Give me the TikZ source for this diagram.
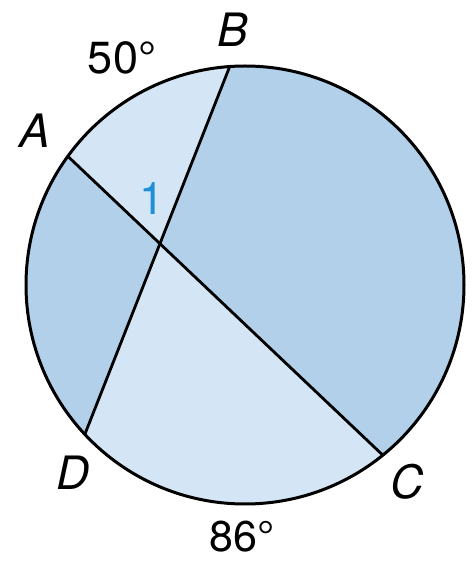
\documentclass[tikz,border=0pt]{standalone}
\usepackage{fontspec}
\setmainfont{TeX Gyre Heros}
\usepackage{tikz}
\usetikzlibrary{calc}
\definecolor{arclight}{RGB}{212,229,245}
\definecolor{arcdark}{RGB}{178,208,233}
\definecolor{numblue}{RGB}{30,144,216}
\begin{document}
\begin{tikzpicture}[x=1pt, y=1pt, thick,
  rim/.style={draw=black, line width=3pt},
  chord/.style={draw=black, line width=2.8pt},
  pt/.style={font=\fontsize{46}{46}\selectfont\itshape},
  deg/.style={font=\fontsize{45}{45}\selectfont}]
\useasboundingbox (0,0) rectangle (473,563);
\coordinate (O) at (245,278);
\coordinate (A) at ($(O)+(144:219)$);
\coordinate (B) at ($(O)+(94:219)$);
\coordinate (D) at ($(O)+(223:219)$);
\coordinate (C) at ($(O)+(309:219)$);
\coordinate (P) at (intersection of A--C and B--D);

\fill[arclight] (P) -- (B) arc[start angle=94, end angle=144, radius=219] -- cycle;
\fill[arcdark] (P) -- (A) arc[start angle=144, end angle=223, radius=219] -- cycle;
\fill[arclight] (P) -- (D) arc[start angle=223, end angle=309, radius=219] -- cycle;
\fill[arcdark] (P) -- (C) arc[start angle=-51, end angle=94, radius=219] -- cycle;

\draw[chord] (A) -- (C);
\draw[chord] (B) -- (D);
\draw[rim] (O) circle[radius=219];

\node[pt] (lB) at (233,533) {B};
\node[pt] (lA) at (35,432) {A};
\node[pt] (lD) at (73,90) {D};
\node[pt] (lC) at (407,81) {C};
\node[deg] (aAB) at (122,505) {50°};
\node[deg, font=\fontsize{43}{43}\selectfont, inner sep=0pt, anchor=base] (aDC) at (242,12) {86°};
\node[deg, text=numblue] (one) at (152,364) {1};
\end{tikzpicture}
\end{document}
